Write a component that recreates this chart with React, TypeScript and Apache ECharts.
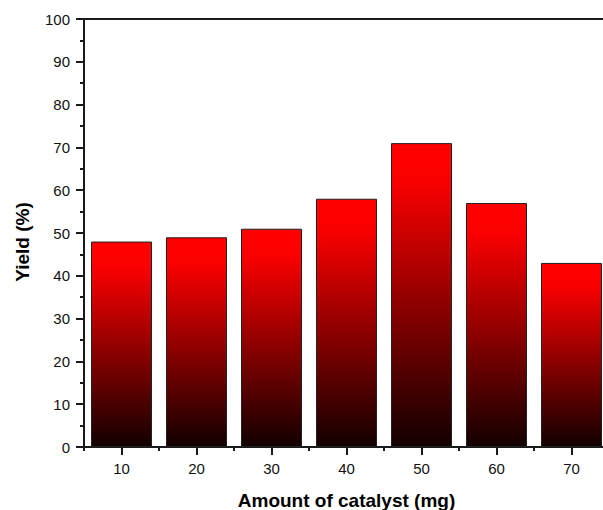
import React, { useEffect, useRef } from "react";
import * as echarts from "echarts";

const categories = ["10", "20", "30", "40", "50", "60", "70"];
const yieldValues = [48, 49, 51, 58, 71, 57, 43];
const yMin = 0;
const yMax = 100;
const yInterval = 10;

export default function App() {
  const ref = useRef<HTMLDivElement>(null);
  useEffect(() => {
    document.body.style.margin = "0";
    const chart = echarts.init(ref.current!, null, { renderer: "svg" });
    const font = "'Liberation Sans', Arial, sans-serif";
    const axisLine = { show: true, lineStyle: { color: "#1a1a1a", width: 2 } };
    chart.setOption({
      animation: false,
      backgroundColor: "#ffffff",
      grid: { left: 84, top: 19, width: 525, height: 428, containLabel: false, outerBoundsMode: "none" },
      xAxis: [
        {
          type: "category",
          data: categories,
          position: "bottom",
          axisLine,
          axisTick: { show: true, alignWithLabel: true, length: 8, lineStyle: { color: "#1a1a1a", width: 2 } },
          axisLabel: { color: "#111", fontSize: 15, fontFamily: font, margin: 14 },
          name: "Amount of catalyst (mg)",
          nameLocation: "middle",
          nameGap: 44,
          nameTextStyle: { color: "#000", fontSize: 19, fontWeight: "bold", fontFamily: font },
          splitLine: { show: false },
        },
        {
          type: "category",
          data: categories,
          position: "bottom",
          axisLine: { show: false },
          axisTick: { show: true, alignWithLabel: false, length: 4, lineStyle: { color: "#1a1a1a", width: 2 } },
          axisLabel: { show: false },
          splitLine: { show: false },
        },
        {
          type: "category",
          data: categories,
          position: "top",
          axisLine,
          axisTick: { show: false },
          axisLabel: { show: false },
          splitLine: { show: false },
        },
      ],
      yAxis: {
        type: "value",
        min: yMin,
        max: yMax,
        interval: yInterval,
        axisLine,
        axisTick: { show: true, length: 8, lineStyle: { color: "#1a1a1a", width: 2 } },
        minorTick: { show: true, splitNumber: 2, length: 4, lineStyle: { color: "#1a1a1a", width: 2 } },
        axisLabel: { color: "#111", fontSize: 15, fontFamily: font, margin: 14 },
        splitLine: { show: false },
        name: "Yield (%)",
        nameLocation: "middle",
        nameGap: 52,
        nameTextStyle: { color: "#000", fontSize: 19, fontWeight: "bold", fontFamily: font, padding: [0, 18, 0, 0] },
      },
      series: [
        {
          type: "bar",
          xAxisIndex: 0,
          data: yieldValues,
          barWidth: 61,
          itemStyle: {
            borderColor: "#222",
            borderWidth: 1,
            color: new echarts.graphic.LinearGradient(0, 0, 0, 1, [
              { offset: 0, color: "#ff0000" },
              { offset: 0.12, color: "#fb0000" },
              { offset: 1, color: "#120000" },
            ]),
          },
        },
      ],
    });
    return () => chart.dispose();
  }, []);
  return <div ref={ref} style={{ width: 603, height: 510 }} />;
}
